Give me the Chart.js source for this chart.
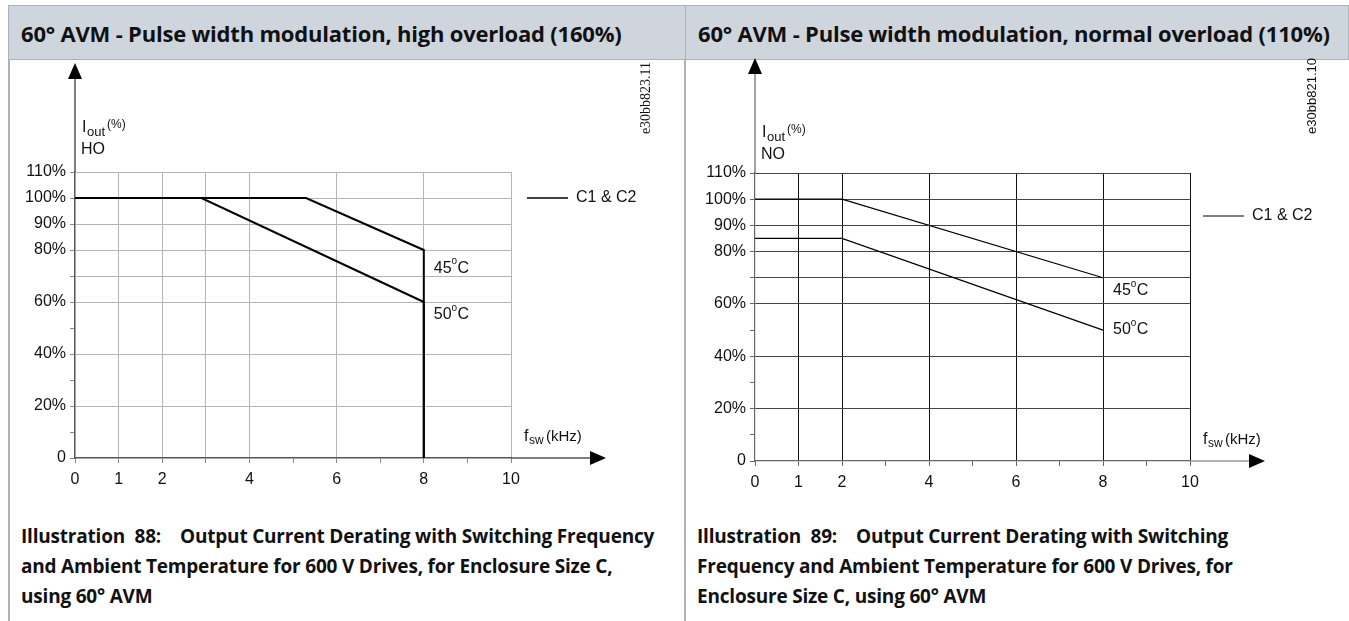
<!DOCTYPE html>
<html>
<head>
<meta charset="utf-8">
<script src="https://cdn.jsdelivr.net/npm/chart.js@4.4.1/dist/chart.umd.min.js"></script>
<style>
  html, body { margin: 0; padding: 0; background: #fff; }
  body { width: 1349px; height: 621px; position: relative; overflow: hidden; font-family: "Open Sans", sans-serif; }
  .head { position: absolute; top: 5px; height: 55px; background: #cfd5dc; border: 1px solid #aab2bc; box-sizing: border-box; }
  .head span { position: absolute; left: 12px; top: 50%; transform: translateY(-50%); font-weight: 700; font-size: 22px; color: #111; white-space: nowrap; letter-spacing: -0.2px; }
  .vline { position: absolute; width: 2px; background: #aab2bc; }
  .cap { position: absolute; top: 521px; font-family: "Open Sans", sans-serif; font-weight: 700; font-size: 19px; line-height: 30px; color: #111; white-space: nowrap; letter-spacing: -0.2px; }
  canvas { position: absolute; }
</style>
</head>
<body>
<div class="head" style="left:8px; width:678px;"><span>60° AVM - Pulse width modulation, high overload (160%)</span></div>
<div class="head" style="left:685px; width:664px;"><span>60° AVM - Pulse width modulation, normal overload (110%)</span></div>
<div class="vline" style="left:8px; top:59px; height:562px;"></div>
<div class="vline" style="left:684px; top:59px; height:562px;"></div>
<div class="cap" style="left:21px;">Illustration&nbsp; 88:&nbsp;&nbsp;&nbsp; Output Current Derating with Switching Frequency<br>and Ambient Temperature for 600 V Drives, for Enclosure Size C,<br>using 60° AVM</div>
<div class="cap" style="left:697px;">Illustration&nbsp; 89:&nbsp;&nbsp;&nbsp; Output Current Derating with Switching<br>Frequency and Ambient Temperature for 600 V Drives, for<br>Enclosure Size C, using 60° AVM</div>
<canvas id="ho" width="670" height="470" style="left:10px; top:42px; width:670px; height:470px;"></canvas>
<canvas id="no" width="660" height="470" style="left:688px; top:42px; width:660px; height:470px;"></canvas>
<script>
// tick values and labels (kHz / %)
const xTicks = [0, 1, 2, 3, 4, 5, 6, 7, 8, 9, 10];
const xTickLabels = ['0', '1', '2', '', '4', '', '6', '', '8', '', '10'];
const yTicks = [0, 10, 20, 30, 40, 50, 60, 70, 80, 90, 100, 110];
const yTickLabels = ['0', '', '20%', '', '40%', '', '60%', '', '80%', '90%', '100%', '110%'];

// grid lines drawn in each chart
const hoGridX = [1, 2, 3, 4, 6, 8, 10];
const noGridX = [1, 2, 4, 6, 8, 10];
const gridY = [20, 40, 60, 70, 80, 90, 100, 110];

// high overload curves
const hoX45 = [0, 5.3, 8, 8];
const hoY45 = [100, 100, 80, 0];
const hoX50 = [0, 2.9, 8, 8];
const hoY50 = [100, 100, 60, 0];

// normal overload curves
const noX45 = [0, 2, 8];
const noY45 = [100, 100, 70];
const noX50 = [0, 2, 8];
const noY50 = [85, 85, 50];

const tickFont = { family: 'Liberation Sans, Arial, sans-serif', size: 16 };

function pts(xs, ys) {
  return xs.map((x, i) => ({ x: x, y: ys[i] }));
}

// arrows, axis texts and curve labels
function decoPlugin(o) {
  return {
    id: 'deco',
    afterDraw(chart) {
      const c = chart.ctx;
      const a = chart.chartArea;
      const xs = chart.scales.x;
      const ys = chart.scales.y;
      c.save();
      c.fillStyle = '#000';
      c.strokeStyle = o.axisColor;
      c.lineWidth = o.axisWidth;
      // axis extensions
      c.beginPath();
      c.moveTo(a.left, a.top);
      c.lineTo(a.left, a.top - o.yExt + 12);
      c.moveTo(a.right, a.bottom);
      c.lineTo(a.right + o.xExt - 12, a.bottom);
      c.stroke();
      // arrow heads
      c.beginPath();
      c.moveTo(a.left, a.top - o.yExt);
      c.lineTo(a.left - 7, a.top - o.yExt + 16);
      c.lineTo(a.left + 7, a.top - o.yExt + 16);
      c.closePath();
      c.fill();
      c.beginPath();
      c.moveTo(a.right + o.xExt, a.bottom);
      c.lineTo(a.right + o.xExt - 16, a.bottom - 7);
      c.lineTo(a.right + o.xExt - 16, a.bottom + 7);
      c.closePath();
      c.fill();

      c.fillStyle = '#111';
      c.textBaseline = 'middle';
      c.textAlign = 'left';
      // I_out(%)
      const iy = a.top - o.ioutOff;
      c.font = '16px Liberation Sans, Arial, sans-serif';
      c.fillText('I', a.left + 7, iy);
      c.font = '13px Liberation Sans, Arial, sans-serif';
      c.fillText('out', a.left + 12, iy + 4);
      c.font = '12px Liberation Sans, Arial, sans-serif';
      c.fillText('(%)', a.left + 32, iy - 3);
      c.font = '16px Liberation Sans, Arial, sans-serif';
      c.fillText(o.mode, a.left + 6, iy + 22);
      // f_sw (kHz)
      const fx = xs.getPixelForValue(10) + 13;
      const fy = a.bottom - 21;
      c.fillText('f', fx, fy);
      c.font = '12px Liberation Sans, Arial, sans-serif';
      c.fillText('sw', fx + 5, fy + 4);
      c.font = '15px Liberation Sans, Arial, sans-serif';
      c.fillText('(kHz)', fx + 22, fy);
      // temperature labels
      o.temps.forEach(t => {
        const tx = xs.getPixelForValue(8) + 10;
        const ty = ys.getPixelForValue(t.y);
        c.font = '16px Liberation Sans, Arial, sans-serif';
        c.fillText(t.text, tx, ty);
        const w = c.measureText(t.text).width;
        c.font = '10px Liberation Sans, Arial, sans-serif';
        c.fillText('o', tx + w, ty - 7);
        c.font = '16px Liberation Sans, Arial, sans-serif';
        c.fillText('C', tx + w + 6, ty);
      });
      // legend
      c.strokeStyle = '#000';
      c.lineWidth = o.legendWidth;
      c.beginPath();
      c.moveTo(a.right + o.legX, a.top + o.legY);
      c.lineTo(a.right + o.legX + 41, a.top + o.legY);
      c.stroke();
      c.font = '16px Liberation Sans, Arial, sans-serif';
      c.fillText('C1 & C2', a.right + o.legX + 49, a.top + o.legY);
      // drawing code
      c.translate(o.codeX, o.codeY);
      c.rotate(-Math.PI / 2);
      c.textAlign = 'center';
      c.font = o.codeFont;
      c.fillText(o.code, 0, 0);
      c.restore();
    }
  };
}

function makeChart(id, sets, gridX, o) {
  return new Chart(document.getElementById(id), {
    type: 'line',
    data: {
      datasets: sets.map(s => ({
        data: pts(s[0], s[1]),
        borderColor: '#000',
        borderWidth: o.lineWidth,
        pointRadius: 0,
        tension: 0,
        fill: false
      }))
    },
    options: {
      responsive: false,
      animation: false,
      events: [],
      layout: { padding: o.padding },
      plugins: { legend: { display: false }, tooltip: { enabled: false } },
      scales: {
        x: {
          type: 'linear',
          min: 0,
          max: 10,
          afterBuildTicks: s => { s.ticks = xTicks.map(v => ({ value: v })); },
          afterFit: s => { s.height = 30; },
          ticks: {
            font: tickFont,
            color: '#111',
            padding: 7,
            maxRotation: 0,
            autoSkip: false,
            callback: (v, i) => xTickLabels[i]
          },
          grid: {
            color: ctx => gridX.includes(ctx.tick.value) ? o.gridXColor : 'rgba(0,0,0,0)',
            tickColor: o.tickColor,
            tickLength: 5,
            lineWidth: 1
          },
          border: { color: o.axisColor, width: o.axisWidth }
        },
        y: {
          type: 'linear',
          min: 0,
          max: 110,
          afterBuildTicks: s => { s.ticks = yTicks.map(v => ({ value: v })); },
          afterFit: s => { s.width = o.yWidth; },
          ticks: {
            font: tickFont,
            color: '#111',
            padding: 4,
            autoSkip: false,
            callback: (v, i) => yTickLabels[i]
          },
          grid: {
            color: ctx => gridY.includes(ctx.tick.value) ? o.gridYColor : 'rgba(0,0,0,0)',
            tickColor: o.tickColor,
            tickLength: 5,
            lineWidth: 1
          },
          border: { color: o.axisColor, width: o.axisWidth }
        }
      }
    },
    plugins: [decoPlugin(o)]
  });
}

makeChart('ho', [[hoX45, hoY45], [hoX50, hoY50]], hoGridX, {
  padding: { left: 0, right: 169, top: 130, bottom: 24 },
  yWidth: 65,
  lineWidth: 2,
  gridXColor: '#b5b5b5',
  gridYColor: '#b5b5b5',
  tickColor: '#888',
  axisColor: '#555',
  axisWidth: 1.5,
  yExt: 109,
  xExt: 95,
  ioutOff: 44,
  mode: 'HO',
  temps: [{ text: '45', y: 73 }, { text: '50', y: 55 }],
  legendWidth: 1.5,
  legX: 16,
  legY: 26,
  code: 'e30bb823.11',
  codeFont: '14px Liberation Serif, serif',
  codeX: 636,
  codeY: 56
});

makeChart('no', [[noX45, noY45], [noX50, noY50]], noGridX, {
  padding: { left: 0, right: 158, top: 131, bottom: 21 },
  yWidth: 67,
  lineWidth: 1.2,
  gridXColor: '#111',
  gridYColor: '#444',
  tickColor: '#666',
  axisColor: '#666',
  axisWidth: 1.2,
  yExt: 115,
  xExt: 75,
  ioutOff: 40,
  mode: 'NO',
  temps: [{ text: '45', y: 65 }, { text: '50', y: 50 }],
  legendWidth: 1,
  legX: 13,
  legY: 43,
  code: 'e30bb821.10',
  codeFont: '13px Liberation Sans, Arial, sans-serif',
  codeX: 624,
  codeY: 54
});
</script>
</body>
</html>
